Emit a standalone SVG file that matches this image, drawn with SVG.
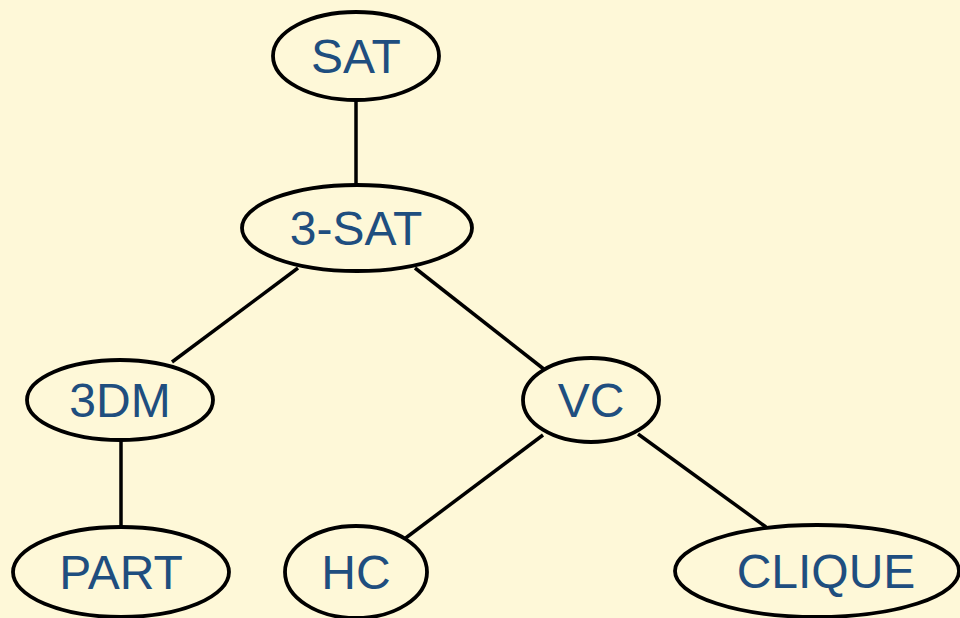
<svg xmlns="http://www.w3.org/2000/svg" width="960" height="618" viewBox="0 0 960 618">
<style>
.n ellipse{fill:#FEF8D8;stroke:#000;stroke-width:3.8}
.n text{font-family:"Liberation Sans",Arial,sans-serif;font-size:48px;fill:#1F4E7F;text-anchor:middle}
#edges line{stroke:#000;stroke-width:3.5}
</style>
<rect width="960" height="618" fill="#FEF8D8"/>
<g id="edges">
<line x1="356" y1="100" x2="356" y2="184"/>
<line x1="298" y1="268" x2="172" y2="362"/>
<line x1="415" y1="268" x2="545" y2="370"/>
<line x1="121" y1="440" x2="121" y2="528"/>
<line x1="543" y1="435" x2="403" y2="540"/>
<line x1="638" y1="434" x2="766" y2="527"/>
</g>
<g id="SAT" class="n"><ellipse cx="356" cy="56" rx="83" ry="44"/><text x="356" y="73">SAT</text></g>
<g id="3SAT" class="n"><ellipse cx="357" cy="228" rx="115" ry="43"/><text x="356" y="245">3-SAT</text></g>
<g id="3DM" class="n"><ellipse cx="120" cy="400" rx="93" ry="40"/><text x="120" y="417">3DM</text></g>
<g id="VC" class="n"><ellipse cx="591" cy="400" rx="68" ry="42"/><text x="591" y="417">VC</text></g>
<g id="PART" class="n"><ellipse cx="121" cy="572" rx="108" ry="45"/><text x="121" y="589">PART</text></g>
<g id="HC" class="n"><ellipse cx="356" cy="572" rx="71" ry="46"/><text x="356" y="589">HC</text></g>
<g id="CLIQUE" class="n"><ellipse cx="817" cy="571" rx="142" ry="46"/><text x="826" y="588">CLIQUE</text></g>
</svg>
